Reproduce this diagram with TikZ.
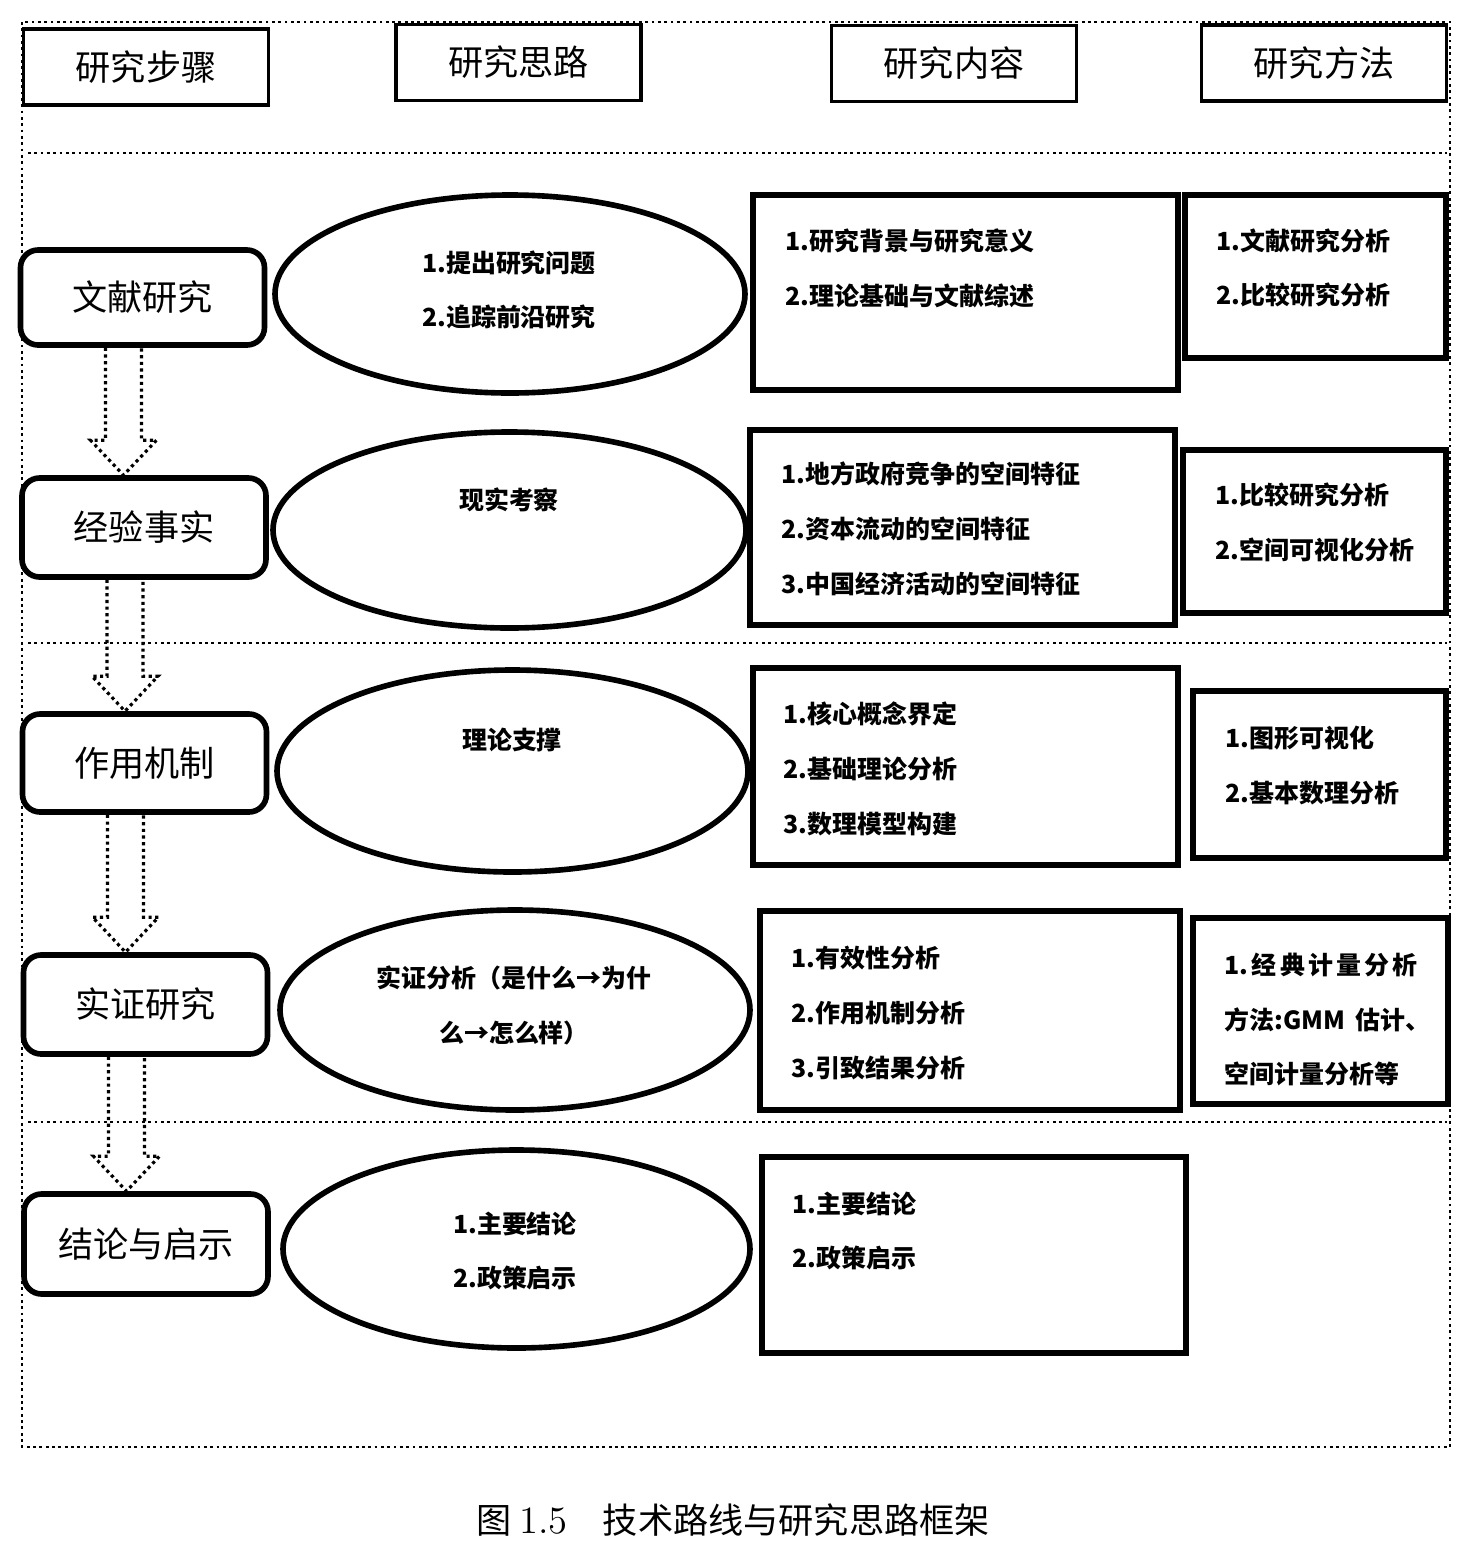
\documentclass[tikz,border=0pt]{standalone}
\usepackage{fontspec}
\newfontfamily\cjk{Noto Sans CJK SC}
\usetikzlibrary{shapes.geometric,calc}

\begin{document}
\begin{tikzpicture}

    \tikzset{
      headbox/.style={
        draw,
        line width=1.1pt,
        minimum width=2.45cm,
        minimum height=0.76cm,
        font=\cjk\fontsize{10}{12}\selectfont,
      },
      stepbox/.style={
        draw,
        line width=1.6pt,
        rounded corners=5pt,
        minimum width=2.44cm,
        minimum height=0.97cm,
        font=\cjk\fontsize{10}{12}\selectfont,
      },
      idea/.style={draw,ellipse,line width=1.6pt,minimum width=4.7cm,minimum height=1.98cm},
      itembox/.style={draw,line width=1.6pt},
      item/.style={anchor=west,align=left,inner sep=0pt,font=\cjk\bfseries\fontsize{7.1}{15.6}\selectfont},
      note/.style={align=center,inner sep=0pt,font=\cjk\bfseries\fontsize{7.1}{15.6}\selectfont},
      frame/.style={densely dotted,line width=0.8pt},
      hollow/.style={densely dotted,line width=0.9pt},
    }
    \useasboundingbox (0,0) rectangle (14.75,-15.67);
    \draw[frame] (0.22,-0.22) rectangle (14.50,-14.47);
    \foreach \y in {1.53,6.43,11.22}
      \draw[frame] (0.28,-\y) -- (14.47,-\y);

    \node[headbox] (h1) at (1.46,-0.67) {研究步骤};
    \node[headbox] (h2) at (5.185,-0.625) {研究思路};
    \node[headbox] (h3) at (9.54,-0.635) {研究内容};
    \node[headbox] (h4) at (13.24,-0.63) {研究方法};

    \node[stepbox,minimum height=0.95cm] (s1) at (1.425,-2.975) {文献研究};
    \node[stepbox,minimum height=0.99cm] (s2) at (1.44,-5.275) {经验事实};
    \node[stepbox,minimum height=0.98cm] (s3) at (1.445,-7.63) {作用机制};
    \node[stepbox,minimum height=0.99cm] (s4) at (1.455,-10.045) {实证研究};
    \node[stepbox,minimum height=1.0cm] (s5) at (1.46,-12.44) {结论与启示};

    \foreach \a/\b in {s1/s2,s2/s3,s3/s4,s4/s5}
      \draw[hollow] let \p1=($(\a.south)+(-0.19,0)$), \p2=($(\b.north)+(-0.19,0)$) in
        (\x1-0.18cm,\y1) -- (\x1-0.18cm,\y2+0.35cm) -- (\x1-0.33cm,\y2+0.35cm) -- (\x1,\y2)
        -- (\x1+0.33cm,\y2+0.35cm) -- (\x1+0.18cm,\y2+0.35cm) -- (\x1+0.18cm,\y1);

    \node[idea] (e1) at (5.10,-2.94) {};
    \node[idea,minimum width=4.73cm,minimum height=1.96cm] (e2) at (5.095,-5.30) {};
    \node[idea,minimum width=4.71cm,minimum height=2.02cm] (e3) at (5.125,-7.71) {};
    \node[idea,minimum height=2.0cm] (e4) at (5.15,-10.10) {};
    \node[idea,minimum width=4.67cm] (e5) at (5.165,-12.49) {};
    \node[note,align=left] (t1) at (5.09,-2.90) {1.提出研究问题\\2.追踪前沿研究};
    \node[note] (t2) at (5.09,-5.00) {现实考察};
    \node[note] (t3) at (5.12,-7.40) {理论支撑};
    \node[note] (t4) at (5.14,-10.055) {实证分析（是什么→为什\\么→怎么样）};
    \node[note,align=left] (t5) at (5.15,-12.51) {1.主要结论\\2.政策启示};

    \node[itembox,minimum width=4.25cm,minimum height=1.95cm] (c1) at (9.655,-2.925) {};
    \node[itembox,minimum width=4.25cm,minimum height=1.95cm] (c2) at (9.625,-5.275) {};
    \node[itembox,minimum width=4.25cm,minimum height=1.97cm] (c3) at (9.655,-7.665) {};
    \node[itembox,minimum width=4.20cm,minimum height=1.99cm] (c4) at (9.70,-10.105) {};
    \node[itembox,minimum width=4.24cm,minimum height=1.96cm] (c5) at (9.74,-12.55) {};
    \node[item] (ct1) at (7.85,-2.685) {1.研究背景与研究意义\\2.理论基础与文献综述};
    \node[item] (ct2) at (7.81,-5.285) {1.地方政府竞争的空间特征\\2.资本流动的空间特征\\3.中国经济活动的空间特征};
    \node[item] (ct3) at (7.83,-7.69) {1.核心概念界定\\2.基础理论分析\\3.数理模型构建};
    \node[item] (ct4) at (7.91,-10.13) {1.有效性分析\\2.作用机制分析\\3.引致结果分析};
    \node[item] (ct5) at (7.92,-12.31) {1.主要结论\\2.政策启示};

    \node[itembox,minimum width=2.61cm,minimum height=1.63cm] (m1) at (13.155,-2.765) {};
    \node[itembox,minimum width=2.63cm,minimum height=1.63cm] (m2) at (13.145,-5.315) {};
    \node[itembox,minimum width=2.53cm,minimum height=1.67cm] (m3) at (13.195,-7.745) {};
    \node[itembox,minimum width=2.55cm,minimum height=1.86cm] (m4) at (13.205,-10.11) {};
    \node[item] (mt1) at (12.16,-2.68) {1.文献研究分析\\2.比较研究分析};
    \node[item] (mt2) at (12.15,-5.225) {1.比较研究分析\\2.空间可视化分析};
    \node[item] (mt3) at (12.25,-7.655) {1.图形可视化\\2.基本数理分析};
    \node[item] (mt4) at (12.24,-10.195) {\makebox[1.93cm][s]{1.\hfill 经\hfill 典\hfill 计\hfill 量\hfill 分\hfill 析}\\
      \makebox[1.93cm][s]{方法:GMM\hspace{0.4em}\hfill 估计、}\\空间计量分析等};

    \node[font=\cjk\fontsize{10}{12}\selectfont] (cap) at (7.33,-15.20) {图 {\rmfamily\fontsize{11}{12}\selectfont 1.5}\hspace{1em}技术路线与研究思路框架};

\end{tikzpicture}
\end{document}
